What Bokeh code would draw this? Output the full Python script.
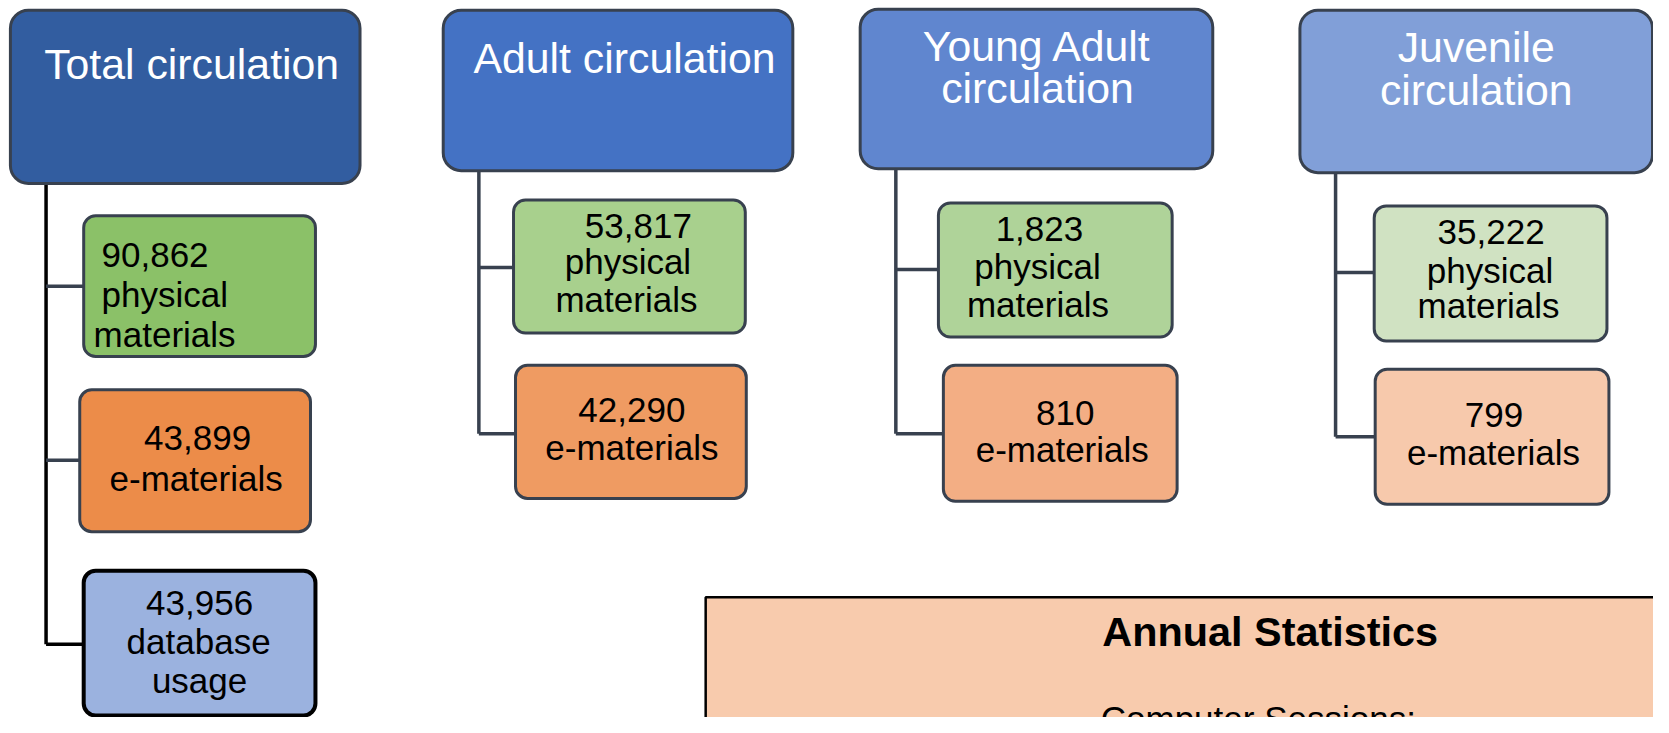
from bokeh.plotting import figure
from bokeh.models import Range1d, Label
from bokeh.core.properties import value
from bokeh.embed import file_html
from bokeh.resources import INLINE

# ---------------- data ----------------
group_titles = [["Total circulation"], ["Adult circulation"],
                ["Young Adult", "circulation"], ["Juvenile", "circulation"]]
physical_counts = [90862, 53817, 1823, 35222]
e_material_counts = [43899, 42290, 810, 799]
database_usage = 43956
physical_words = ["physical", "materials"]
e_words = ["e-materials"]
database_words = ["database", "usage"]
stats_title = "Annual Statistics"
stats_first_line = "Computer Sessions:"

# ---------------- styles ----------------
title_fill = ["#325DA0", "#4472C4", "#6086CF", "#819FD8"]
physical_fill = ["#8BC168", "#A8D08D", "#AFD399", "#D0E2C2"]
e_fill = ["#EC8C49", "#EF9B62", "#F3AE84", "#F7C9AC"]
database_fill = "#9BB2DF"
stats_fill = "#F8CBAD"
border = "#38414F"
FONT = value("Liberation Sans")

# ---------------- layout (reference pixels: left, top, right, bottom) ----------------
title_boxes = [(10, 10, 363, 187), (447, 10, 800, 174), (868, 9, 1224, 172), (1312, 10, 1668, 176)]
title_text_x = [193, 630, 1047, 1490]
title_baselines = [[79], [73], [60, 103], [61, 105]]
phys_boxes = [(84, 220, 318, 364), (518, 204, 752, 340), (947, 207, 1183, 344), (1387, 210, 1622, 348)]
phys_text = [  # (x, baseline, align) per line
    [(102, 272, "left"), (102, 312, "left"), (94, 353, "left")],
    [(644, 242, "center"), (633.5, 278, "center"), (632, 317, "center")],
    [(1049, 245, "center"), (1047, 283, "center"), (1047.5, 322, "center")],
    [(1505, 248, "center"), (1504, 287, "center"), (1502.5, 323, "center")],
]
e_boxes = [(80, 398, 313, 543), (520, 373, 753, 509), (952, 373, 1188, 512), (1388, 377, 1624, 515)]
e_text = [
    [(199, 459), (197.5, 500)],
    [(637.5, 430), (637.5, 468)],
    [(1075, 433), (1072, 470)],
    [(1508, 435), (1507.5, 473)],
]
db_box = (84, 583, 318, 731)
db_text = [(201, 627), (200, 667), (201, 707)]
spine_x = [46, 483, 904, 1348]
phys_link_y = [292, 273, 275, 278]
e_link_y = [470, 443, 443, 446]
db_link_y = 658
stats_box = (712, 610, 1720, 800)

REF_W, REF_H = 1669, 733
W, H = 1653, 717
FS = 0.985          # font scale to fit the reference into the figure
BASE_SHIFT = 0.32   # alphabetic baseline correction (in em)


def Y(py):
    return REF_H - py


p = figure(width=W, height=H, output_backend="svg", toolbar_location=None,
           x_range=Range1d(0, REF_W), y_range=Range1d(0, REF_H),
           min_border=0, border_fill_color="white", background_fill_color="white")
p.axis.visible = False
p.grid.visible = False
p.outline_line_color = None


def box(b, fill, line, lw, radius):
    l, t, r, bt = b
    p.quad(left=[l], right=[r], top=[Y(t)], bottom=[Y(bt)], fill_color=fill,
           line_color=line, line_width=lw, border_radius=radius)


def txt(x, py, s, align="center", color="black", size=35.5, style="normal"):
    p.text(x=[x], y=[Y(py - BASE_SHIFT * size)], text=[s], text_align=align,
           text_baseline="alphabetic", text_font=FONT,
           text_font_size=value(f"{size * FS:.1f}px"), text_color=color,
           text_font_style=style)


# connectors
for i in range(4):
    last = e_link_y[i] if i > 0 else db_link_y
    spine_color = "black" if i == 0 else border
    p.line([spine_x[i], spine_x[i]], [Y(title_boxes[i][3]), Y(last)],
           line_color=spine_color, line_width=3.5)
    p.line([spine_x[i], phys_boxes[i][0]], [Y(phys_link_y[i])] * 2, line_color=border, line_width=3.5)
    p.line([spine_x[i], e_boxes[i][0]], [Y(e_link_y[i])] * 2, line_color=border, line_width=3.5)
p.line([spine_x[0], db_box[0]], [Y(db_link_y)] * 2, line_color="black", line_width=3.5)

# annual statistics box
box(stats_box, stats_fill, "black", 2.5, 0)
txt(1282, 659, stats_title, size=42, style="bold")
p.add_layout(Label(x=1270, y=Y(745.5 - BASE_SHIFT * 35.5), text=stats_first_line,
                   text_align="center", text_baseline="alphabetic",
                   text_font="Liberation Sans",
                   text_font_size=f"{35.5 * FS:.1f}px", text_color="black"))

# title boxes
for i in range(4):
    box(title_boxes[i], title_fill[i], border, 3, 18)
    for line, by in zip(group_titles[i], title_baselines[i]):
        txt(title_text_x[i], by, line, color="white", size=43.5)

# physical boxes
for i in range(4):
    box(phys_boxes[i], physical_fill[i], border, 3, 12)
    lines = [f"{physical_counts[i]:,}"] + physical_words
    for s, (x, by, al) in zip(lines, phys_text[i]):
        txt(x, by, s, align=al)

# e-material boxes
for i in range(4):
    box(e_boxes[i], e_fill[i], border, 3, 12)
    lines = [f"{e_material_counts[i]:,}"] + e_words
    for s, (x, by) in zip(lines, e_text[i]):
        txt(x, by, s)

# database box
box(db_box, database_fill, "black", 4, 12)
for s, (x, by) in zip([f"{database_usage:,}"] + database_words, db_text):
    txt(x, by, s)

open("out.html", "w").write(file_html(p, INLINE))
